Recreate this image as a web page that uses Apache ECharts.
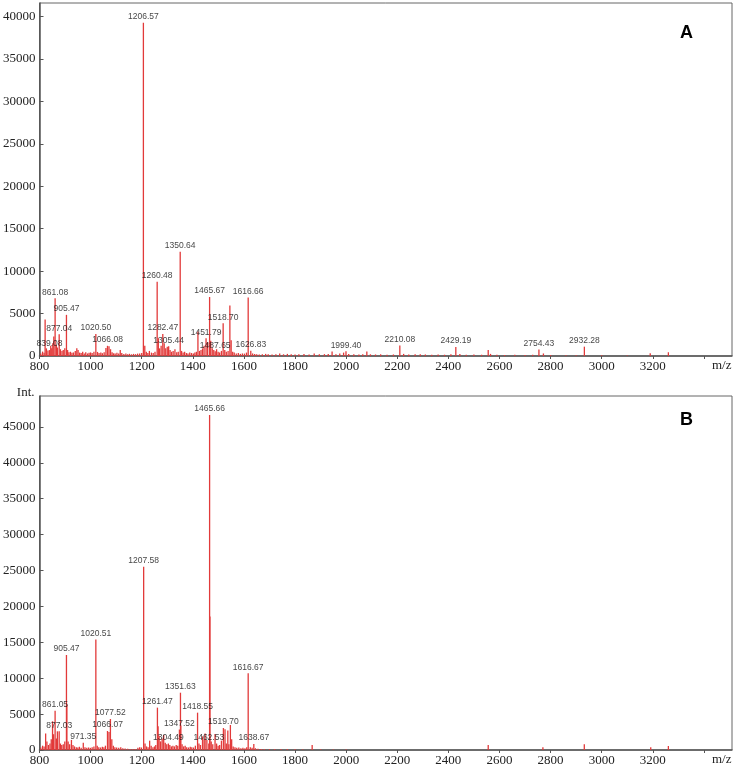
<!DOCTYPE html>
<html>
<head>
<meta charset="utf-8">
<script src="https://cdn.jsdelivr.net/npm/echarts@6/dist/echarts.min.js"></script>
<style>html,body{margin:0;padding:0;background:#fff}#c{width:734px;height:769px}</style>
</head>
<body>
<div id="c"></div>
<script>
// ---------- data ----------
const xTickStart = 800, xTickStep = 200, xEnd = 3510;
const yMaxA = 41600, yMaxB = 49300, yStep = 5000;

// Panel A labelled peaks [m/z, intensity]
const peaksA = [[839.08,700],[861.08,6800],[877.04,2550],[905.47,4850],[1020.50,2600],[1066.08,1200],
  [1206.57,39260],[1260.48,8740],[1282.47,2600],[1305.44,1150],[1350.64,12300],[1451.79,2100],
  [1465.67,6950],[1487.65,560],[1518.70,3850],[1616.66,6880],[1626.83,620],[1999.40,560],
  [2210.08,1250],[2429.19,1070],[2754.43,780],[2932.28,1100]];
// Panel A unlabelled peaks / baseline
const noiseA = [[805,300],[812,520],[818,380],[822,4300],[827,900],[833,650],[844,1200],[848,900],[852,1500],
  [856,2300],[866,1300],[870,1000],[882,800],[888,600],[893,700],[899,900],[910,700],[915,450],[921,500],
  [927,380],[933,420],[940,600],[946,900],[951,700],[957,400],[963,350],[969,500],[975,300],[981,450],
  [988,300],[994,380],[1000,420],[1006,350],[1013,500],[1027,480],[1033,350],[1040,400],[1046,330],
  [1053,450],[1060,950],[1072,1150],[1078,800],[1084,450],[1090,320],[1096,300],[1103,380],[1110,300],
  [1116,700],[1122,350],[1130,250],[1138,300],[1145,220],[1152,260],[1160,200],[1168,250],[1176,220],
  [1184,280],[1192,300],[1200,350],[1212,1200],[1218,500],[1224,350],[1230,600],[1238,400],[1245,350],
  [1252,500],[1265,2100],[1270,900],[1276,1200],[1288,1500],[1294,900],[1300,1100],[1311,700],[1317,500],
  [1323,600],[1330,800],[1337,450],[1343,500],[1356,600],[1362,400],[1368,500],[1375,350],[1381,300],
  [1388,400],[1395,350],[1402,300],[1408,400],[1414,500],[1420,2900],[1426,600],[1432,700],[1438,900],
  [1444,1200],[1458,1600],[1470,1800],[1476,900],[1482,700],[1493,800],[1499,500],[1505,400],[1512,600],
  [1525,700],[1531,500],[1538,600],[1545,5950],[1550,1850],[1556,500],[1562,400],[1570,300],[1578,350],
  [1586,250],[1594,300],[1602,280],[1610,400],[1634,300],[1642,250],[1650,200],[1660,180],[1672,200],
  [1685,250],[1695,220],[1710,180],[1725,200],[1740,300],[1755,200],[1770,250],[1785,220],[1800,180],
  [1815,200],[1835,250],[1855,180],[1875,300],[1895,200],[1915,220],[1930,250],[1945,520],[1960,200],
  [1975,280],[1990,400],[2010,250],[2030,200],[2050,180],[2065,220],[2081,520],[2095,200],[2115,180],
  [2135,200],[2160,150],[2185,180],[2225,250],[2245,180],[2270,200],[2290,220],[2310,180],[2335,150],
  [2360,180],[2385,150],[2410,200],[2445,250],[2470,150],[2500,180],[2530,150],[2556,720],[2565,250],
  [2590,150],[2620,120],[2660,140],[2700,120],[2730,150],[2772,300],[2800,120],[2860,100],[2900,100],
  [3000,80],[3100,60],[3190,330],[3261,440]];

// Panel B labelled peaks
const peaksB = [[861.05,5480],[877.03,2600],[905.47,13230],[971.35,1000],[1020.51,15400],[1066.07,2650],
  [1077.52,4320],[1207.58,25530],[1261.47,5900],[1304.49,900],[1347.52,2850],[1351.63,7980],
  [1418.55,5200],[1462.53,900],[1465.66,46660],[1519.70,3060],[1616.67,10680],[1638.67,830]];
// Panel B unlabelled peaks / baseline
const noiseB = [[805,350],[812,600],[818,500],[824,2300],[829,1200],[835,700],[841,900],[846,1500],[851,4000],
  [855,2200],[866,1600],[870,2600],[882,900],[887,700],[893,800],[899,1200],[907,6300],[912,1200],[918,800],
  [925,1400],[931,700],[937,500],[944,400],[950,350],[956,450],[963,300],[978,400],[985,300],[992,350],
  [999,300],[1006,400],[1013,500],[1026,600],[1032,400],[1039,350],[1046,450],[1052,400],[1058,600],
  [1072,2500],[1083,1500],[1089,600],[1095,400],[1102,350],[1110,300],[1118,400],[1126,250],[1135,200],
  [1145,180],[1155,150],[1165,130],[1175,150],[1185,300],[1192,400],[1199,350],[1213,900],[1219,500],
  [1225,400],[1231,1300],[1237,600],[1244,400],[1250,500],[1255,700],[1264,3300],[1268,2000],[1274,1200],
  [1280,1600],[1286,2100],[1292,1000],[1298,800],[1310,700],[1316,500],[1322,600],[1328,500],[1335,700],
  [1341,600],[1353,3400],[1358,800],[1364,500],[1370,600],[1376,400],[1383,350],[1390,450],[1396,400],
  [1403,350],[1410,600],[1424,900],[1430,700],[1438,1900],[1444,1500],[1448,2300],[1455,1400],
  [1467,18600],[1472,1200],[1478,800],[1487,2220],[1493,900],[1499,600],[1505,700],[1512,1300],
  [1526,2880],[1531,900],[1537,2700],[1541,800],[1547,3480],[1552,1500],[1558,500],[1565,400],[1572,300],
  [1580,350],[1588,250],[1596,300],[1604,250],[1611,400],[1625,400],[1632,300],[1645,250],[1655,180],
  [1668,150],[1680,120],[1700,100],[1720,120],[1745,100],[1770,120],[1800,100],[1830,80],[1867,700],
  [1900,80],[1950,60],[2000,60],[2556,700],[2770,370],[2932,790],[3192,370],[3261,560]];

// ---------- styles ----------
const RED = '#e23a3a';
const SERIF = '"Liberation Serif", "Times New Roman", serif';
const SANS = '"Liberation Sans", Arial, sans-serif';

function stickItem(params, api) {
  const m = api.value(0), v = api.value(1);
  const p0 = api.coord([m, 0]), p1 = api.coord([m, v]);
  return { type: 'line', shape: { x1: p0[0], y1: p0[1], x2: p1[0], y2: p1[1] },
           style: { stroke: RED, fill: null, lineWidth: 1.3 } };
}

function xAxisDef(idx) {
  return {
    type: 'value', gridIndex: idx, min: xTickStart, max: xEnd, interval: xTickStep,
    name: 'm/z', nameLocation: 'end', nameGap: -20,
    nameTextStyle: { fontFamily: SERIF, fontSize: 13, color: '#222', verticalAlign: 'top', padding: [3, 0, 0, 0] },
    axisLine: { lineStyle: { color: '#555', width: 1.5 } },
    axisTick: { inside: false, length: 3, lineStyle: { color: '#555' } },
    axisLabel: { fontFamily: SERIF, fontSize: 13, color: '#222', margin: 4, showMaxLabel: false,
      formatter: v => (v >= 3400 ? '' : String(v)) },
    splitLine: { show: false }
  };
}
function yAxisDef(idx, max, name) {
  return {
    type: 'value', gridIndex: idx, min: 0, max: max, interval: yStep,
    name: name, nameLocation: 'end', nameGap: 3,
    nameTextStyle: { fontFamily: SERIF, fontSize: 13, color: '#222', align: 'right', verticalAlign: 'middle', padding: [0, 5, 0, 0] },
    axisLine: { lineStyle: { color: '#555', width: 1.5 } },
    axisTick: { inside: true, length: 4, lineStyle: { color: '#555' } },
    axisLabel: { fontFamily: SERIF, fontSize: 13, color: '#222', margin: 4, showMaxLabel: false,
      formatter: v => String(v) },
    splitLine: { show: false }
  };
}
function labelSeries(idx, data) {
  return {
    type: 'scatter', xAxisIndex: idx, yAxisIndex: idx, data: data, symbolSize: 1, silent: true, z: 5,
    itemStyle: { color: 'rgba(0,0,0,0)' },
    label: { show: true, position: 'top', distance: 1, fontFamily: SANS, fontSize: 8.5, color: '#111',
      formatter: p => p.value[0].toFixed(2) }
  };
}

const chart = echarts.init(document.getElementById('c'), null, { renderer: 'canvas' });
chart.setOption({
  animation: false,
  backgroundColor: '#fff',
  grid: [
    { left: 38, right: 2, top: 3, bottom: 413, show: true, borderColor: '#666', borderWidth: 1 },
    { left: 38, right: 2, top: 396, bottom: 19, show: true, borderColor: '#666', borderWidth: 1 }
  ],
  xAxis: [xAxisDef(0), xAxisDef(1)],
  yAxis: [yAxisDef(0, yMaxA, ''), yAxisDef(1, yMaxB, 'Int.')],
  series: [
    { type: 'custom', xAxisIndex: 0, yAxisIndex: 0, renderItem: stickItem, data: noiseA.concat(peaksA), silent: true },
    labelSeries(0, peaksA),
    { type: 'custom', xAxisIndex: 1, yAxisIndex: 1, renderItem: stickItem, data: noiseB.concat(peaksB), silent: true },
    labelSeries(1, peaksB)
  ],
  graphic: [
    { type: 'text', left: 680, top: 24, style: { text: 'A', font: 'bold 18px ' + SANS, fill: '#000' } },
    { type: 'text', left: 680, top: 411, style: { text: 'B', font: 'bold 18px ' + SANS, fill: '#000' } }
  ]
});
</script>
</body>
</html>
